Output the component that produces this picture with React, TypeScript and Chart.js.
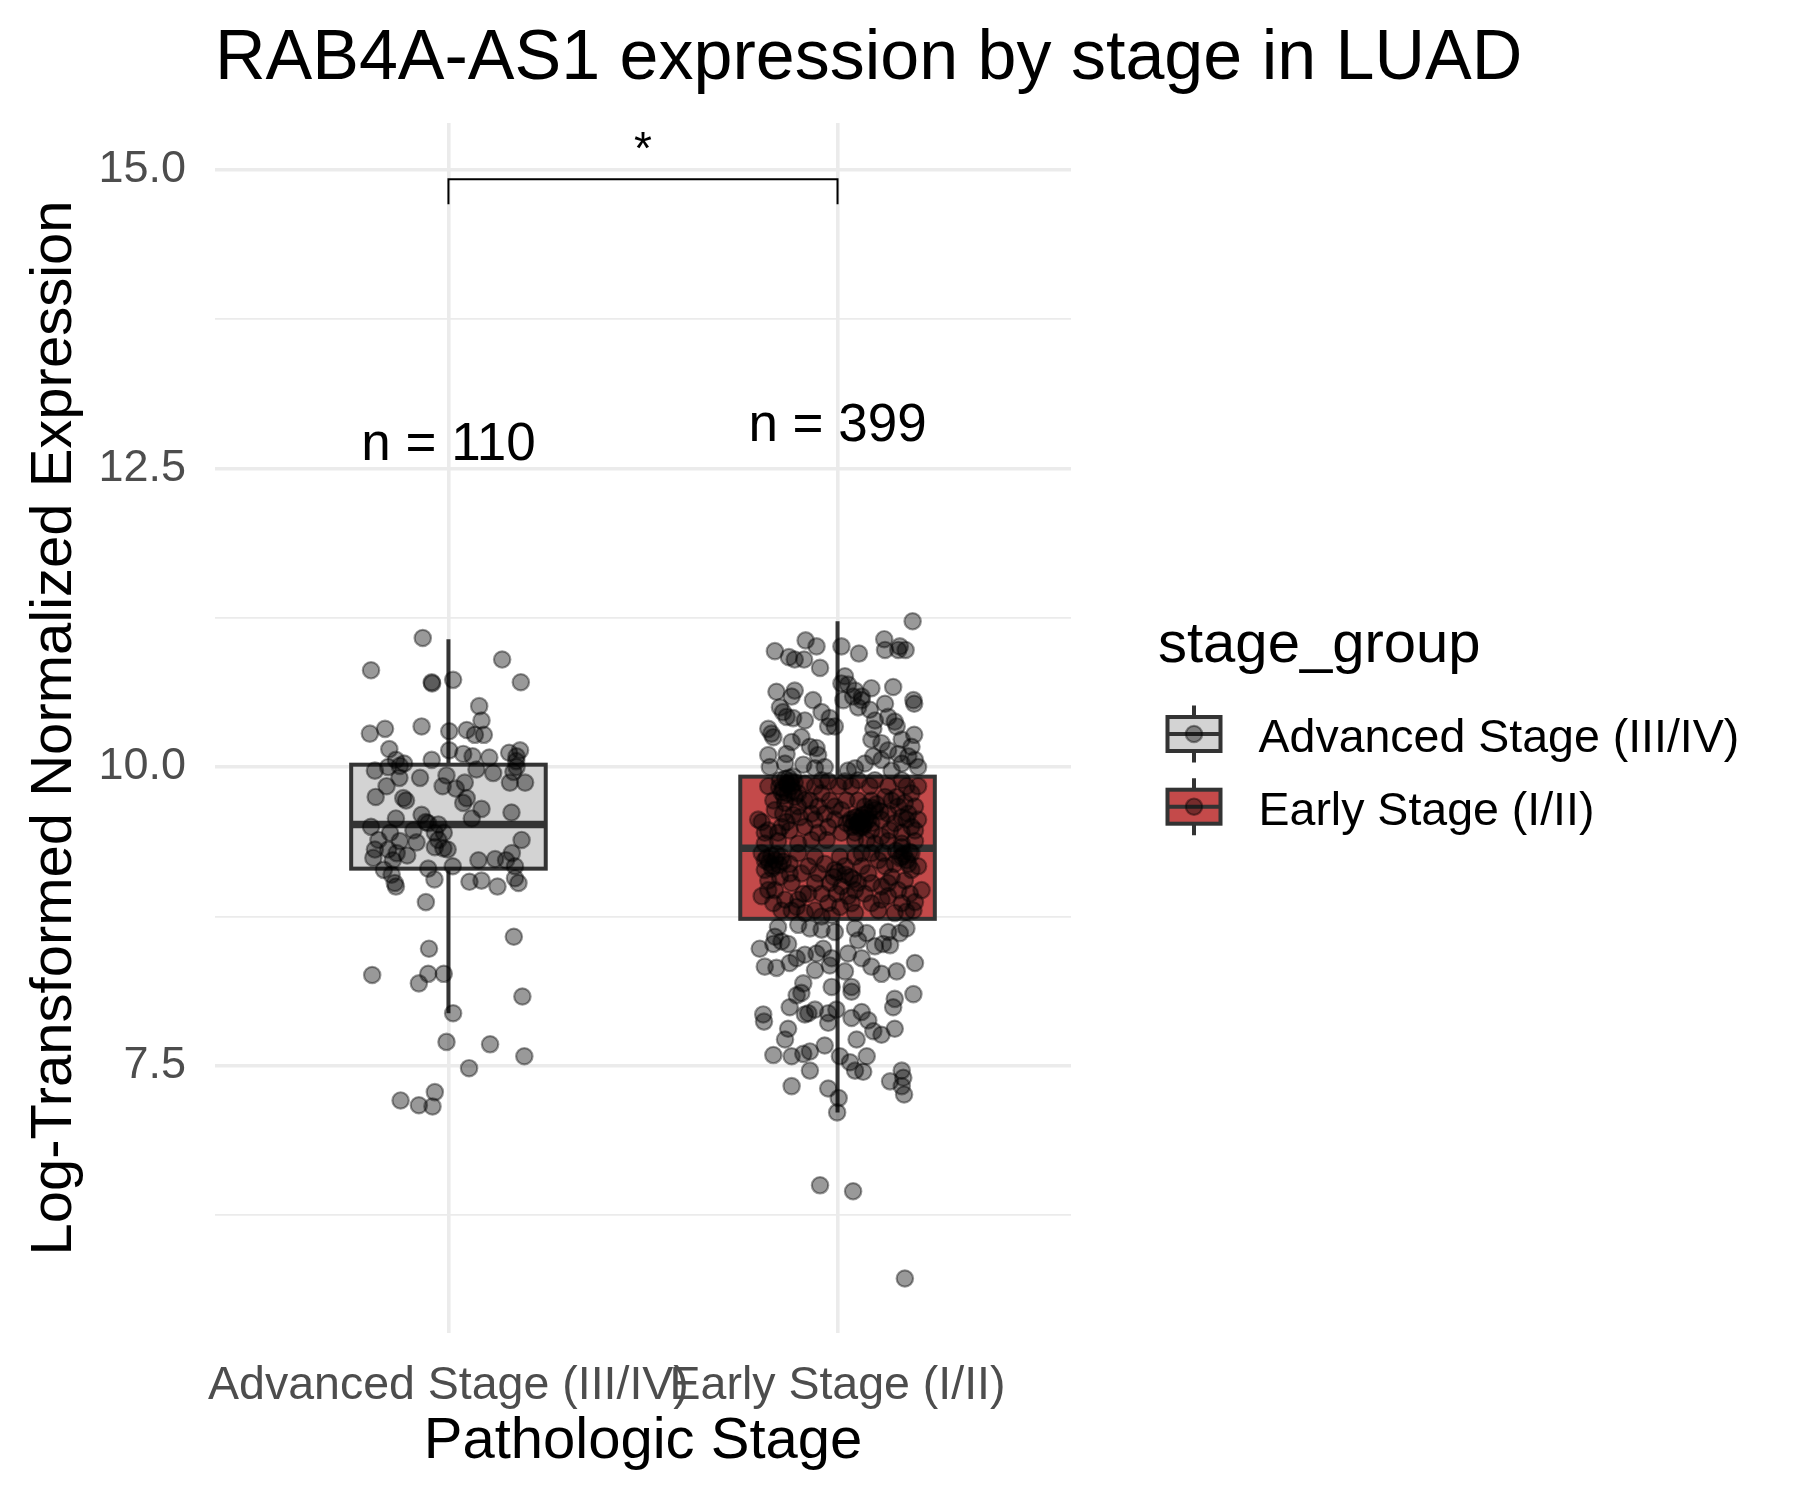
import React, { useEffect, useRef } from 'react';
import { Chart, registerables } from 'chart.js';

Chart.register(...registerables);

// ---------- data ----------
const categories = ['Advanced Stage (III/IV)', 'Early Stage (I/II)'];
const groupCounts = ['n = 110', 'n = 399'];
const countLabelY = [12.57, 12.73];

// box statistics per category
const q1 = [9.15, 8.73];
const median = [9.52, 9.32];
const q3 = [10.02, 9.92];
const whiskerLow = [7.94, 7.11];
const whiskerHigh = [11.07, 11.22];

// significance bracket
const bracketY = 14.92;
const bracketTickY = 14.71;
const starY = 15.05;
const starLabel = '*';

// y axis ticks
const majorTicks = [7.5, 10.0, 12.5, 15.0];
const minorTicks = [6.25, 8.75, 11.25, 13.75];

// jittered points: [expression value, horizontal jitter offset]
const advancedPoints: [number, number][] = [
  [11.08,-0.066],[10.81,-0.199],[10.90,0.138],[10.71,-0.043],[10.70,-0.042],[10.73,0.012],[10.71,0.186],[10.51,0.079],[10.39,0.085],[10.28,-0.202],
  [10.32,-0.163],[10.34,-0.069],[10.30,0.002],[10.31,0.047],[10.27,0.068],[10.27,0.091],[10.15,-0.152],[10.14,0.002],[10.11,0.038],[10.09,0.062],
  [10.08,0.105],[10.12,0.156],[10.14,0.184],[10.09,0.175],[10.06,-0.043],[10.06,-0.135],[10.03,-0.114],[9.97,-0.189],[10.00,-0.155],[10.01,-0.125],
  [10.00,0.175],[9.96,0.167],[9.98,0.072],[9.95,0.115],[9.91,-0.073],[9.93,-0.005],[9.91,-0.126],[9.84,-0.159],[9.84,-0.015],[9.82,0.019],
  [9.87,0.042],[9.87,0.158],[9.87,0.197],[9.75,-0.187],[9.74,-0.116],[9.72,-0.109],[9.74,0.047],[9.70,0.038],[9.65,0.085],[9.57,0.060],
  [9.62,0.162],[9.57,-0.135],[9.60,-0.069],[9.54,-0.058],[9.52,-0.026],[9.50,-0.199],[9.45,-0.150],[9.47,-0.090],[9.45,-0.035],[9.37,-0.082],
  [9.38,-0.125],[9.39,-0.180],[9.31,-0.189],[9.31,-0.155],[9.28,-0.133],[9.26,-0.106],[9.33,-0.035],[9.32,-0.013],[9.39,-0.026],[9.39,0.188],
  [9.24,-0.193],[9.22,-0.143],[9.14,-0.166],[9.10,-0.146],[9.03,-0.138],[9.00,-0.135],[9.15,-0.052],[9.06,-0.036],[9.17,0.011],[9.22,0.077],
  [9.23,0.120],[9.22,0.148],[9.28,0.163],[9.17,0.171],[9.04,0.054],[9.05,0.085],[9.00,0.126],[9.07,0.171],[9.03,0.180],[8.87,-0.058],
  [8.58,0.168],[8.48,-0.050],[8.26,-0.196],[8.27,-0.052],[8.27,-0.012],[8.19,-0.076],[8.08,0.190],[7.94,0.012],[7.70,-0.005],[7.68,0.107],
  [7.58,0.195],[7.48,0.053],[7.28,-0.035],[7.21,-0.123],[7.17,-0.076],[7.16,-0.041],[9.45,-0.012],[9.31,-0.002],[9.53,-0.052],[10.05,0.174],
];

const earlyPoints: [number, number][] = [
  // above the box
  [11.22,0.193],[10.97,-0.161],[10.92,-0.125],[10.90,-0.110],[10.90,-0.086],[11.06,-0.082],[11.01,-0.054],[10.83,-0.045],[11.01,0.010],[10.95,0.055],
  [11.07,0.120],[10.98,0.122],[10.98,0.156],[10.98,0.175],[11.01,0.160],[10.63,-0.157],[10.64,-0.110],[10.59,-0.118],[10.50,-0.148],[10.46,-0.140],
  [10.56,-0.063],[10.39,-0.084],[10.41,-0.114],[10.46,-0.041],[10.41,-0.020],[10.34,-0.024],[10.34,-0.007],[10.76,0.019],[10.69,0.027],[10.64,0.045],
  [10.59,0.040],[10.50,0.053],[10.66,0.087],[10.48,0.083],[10.67,0.143],[10.53,0.122],[10.42,0.130],[10.38,0.147],[10.34,0.152],[10.56,0.195],
  [10.53,0.197],[10.32,-0.178],[10.28,-0.170],[10.25,-0.165],[10.21,-0.118],[10.16,-0.054],[10.10,-0.050],[10.00,-0.033],[10.02,-0.088],[10.11,-0.131],
  [10.10,-0.178],[10.00,-0.174],[10.03,-0.135],[10.70,0.010],[10.56,0.015],[10.59,0.062],[10.32,0.092],[10.23,0.087],[10.20,0.113],[10.14,0.130],
  [10.23,0.165],[10.27,0.197],[10.17,0.190],[10.06,0.199],[10.03,0.165],[10.00,0.207],[9.97,0.139],[10.06,0.113],[10.09,0.092],[10.03,0.070],
  [9.99,0.045],[9.97,0.027],[10.56,0.062],[10.39,0.096],[10.11,0.156],[10.09,0.182],[10.42,-0.131],[10.25,-0.093],[10.17,-0.071],[9.99,-0.058],
  // box, upper half
  [9.89,-0.148],[9.86,-0.131],[9.84,-0.118],[9.79,-0.144],[9.75,-0.110],[9.72,-0.165],[9.70,-0.135],[9.67,-0.101],[9.64,-0.161],[9.60,-0.114],
  [9.54,-0.195],[9.47,-0.178],[9.45,-0.153],[9.45,-0.187],[9.50,-0.144],[9.50,-0.084],[9.84,-0.058],[9.78,-0.041],[9.72,-0.020],[9.67,-0.050],
  [9.61,-0.033],[9.56,-0.058],[9.50,-0.024],[9.45,-0.050],[9.84,0.002],[9.72,0.023],[9.64,0.010],[9.56,-0.007],[9.45,0.010],[9.84,0.036],
  [9.72,0.053],[9.67,0.070],[9.58,0.045],[9.50,0.066],[9.45,0.045],[9.84,0.083],[9.72,0.087],[9.64,0.096],[9.56,0.113],[9.47,0.087],
  [9.42,0.113],[9.84,0.130],[9.72,0.139],[9.67,0.156],[9.61,0.130],[9.53,0.147],[9.45,0.165],[9.84,0.177],[9.78,0.190],[9.70,0.173],
  [9.61,0.182],[9.50,0.190],[9.47,0.199],[9.84,0.207],[9.67,0.199],[9.89,0.165],[9.89,0.096],[9.89,0.053],[9.88,0.019],[9.88,-0.024],
  [9.86,-0.084],[9.78,-0.101],[9.72,-0.071],[9.58,-0.097],[9.56,-0.204],[9.47,-0.123],[9.39,-0.067],[9.39,-0.028],[9.39,0.045],[9.39,0.075],
  [9.36,0.096],[9.38,0.130],[9.36,0.165],[9.38,0.199],[9.36,-0.187],[9.38,-0.153],[9.36,-0.101],[9.53,0.053],[9.56,0.079],[9.50,0.036],
  [9.58,0.062],[9.53,0.087],[9.53,0.023],[9.67,-0.007],[9.61,-0.067],[9.54,-0.131],[9.61,-0.140],[9.75,0.152],[9.75,0.122],[9.56,0.177],
  [9.92,-0.114],[9.84,-0.178],[9.56,0.207],[9.47,0.135],[9.58,0.165],[9.89,-0.041],[9.72,-0.084],
  // dense clusters inside the box
  [9.90,-0.135],[9.88,-0.120],[9.85,-0.128],[9.82,-0.140],[9.80,-0.116],[9.87,-0.110],[9.83,-0.150],[9.78,-0.128],[9.91,-0.125],[9.76,-0.138],
  [9.58,0.050],[9.55,0.058],[9.52,0.064],[9.57,0.072],[9.54,0.042],[9.51,0.050],[9.60,0.066],[9.49,0.058],[9.56,0.034],[9.53,0.070],
  [9.26,-0.170],[9.22,-0.160],[9.20,-0.176],[9.18,-0.150],[9.24,-0.182],[9.15,-0.168],[9.21,-0.140],[9.27,-0.156],
  [9.30,0.150],[9.27,0.170],[9.24,0.160],[9.22,0.178],[9.33,0.165],[9.29,0.185],
  [9.66,0.090],[9.62,0.080],[9.69,0.100],[9.63,0.110],[9.10,0.020],[9.06,0.040],[9.12,0.000],[9.08,-0.010],
  // box, lower half
  [9.22,-0.187],[9.17,-0.165],[9.25,-0.144],[9.19,-0.123],[9.28,-0.101],[9.05,-0.178],[9.08,-0.148],[9.03,-0.118],[9.11,-0.093],[8.92,-0.195],
  [8.86,-0.165],[8.89,-0.135],[8.83,-0.105],[8.94,-0.075],[9.25,-0.058],[9.19,-0.033],[9.11,-0.050],[9.03,-0.020],[8.94,-0.041],[8.86,-0.024],
  [8.80,-0.058],[9.25,0.006],[9.17,0.019],[9.08,0.032],[9.00,0.010],[8.92,0.027],[8.83,0.006],[9.25,0.045],[9.17,0.062],[9.11,0.079],
  [9.03,0.053],[8.94,0.070],[8.86,0.087],[9.22,0.105],[9.17,0.122],[9.08,0.139],[9.00,0.113],[8.92,0.130],[8.80,0.105],[9.25,0.165],
  [9.19,0.182],[9.14,0.190],[9.05,0.173],[8.94,0.186],[8.86,0.165],[8.80,0.195],[8.97,0.216],[9.17,0.207],[9.28,-0.195],[8.80,-0.118],
  [8.78,-0.084],[8.76,-0.015],[8.78,0.045],[8.78,0.147],[8.87,0.199],[8.97,-0.178],[9.17,-0.075],[9.14,-0.007],[9.28,0.087],[9.19,0.147],
  [8.94,-0.088],[8.75,-0.041],[8.86,0.036],[8.97,0.156],[8.97,-0.161],[9.11,-0.123],[9.28,0.062],[9.28,0.117],[9.28,0.190],[9.14,-0.187],
  [8.94,-0.003],[9.03,0.087],[9.03,0.130],[8.89,-0.101],[9.03,-0.058],[8.97,0.045],[8.89,0.113],[8.79,0.177],[8.80,-0.144],
  // below the box
  [8.68,-0.101],[8.65,-0.071],[8.64,-0.041],[8.62,-0.007],[8.58,-0.161],[8.54,-0.144],[8.52,-0.127],[8.48,-0.200],[8.52,-0.165],[8.43,-0.084],
  [8.40,-0.105],[8.44,-0.054],[8.48,-0.037],[8.40,-0.015],[8.44,0.027],[8.55,0.053],[8.61,0.075],[8.50,0.096],[8.52,0.117],[8.51,0.135],
  [8.61,0.160],[8.65,0.177],[8.33,-0.187],[8.32,-0.157],[8.36,-0.123],[8.30,-0.058],[8.34,-0.020],[8.29,0.019],[8.40,0.062],[8.33,0.087],
  [8.27,0.113],[8.29,0.152],[8.36,0.199],[8.19,-0.088],[8.16,-0.015],[8.16,0.036],[8.62,0.130],[8.65,0.045],[8.66,-0.153],
  [7.99,-0.123],[7.93,-0.084],[7.93,-0.191],[7.87,-0.189],[7.94,-0.075],[7.97,-0.058],[7.94,-0.024],[7.97,-0.003],[7.90,0.036],[7.95,0.062],
  [7.88,0.079],[7.86,-0.024],[7.79,0.092],[7.76,0.113],[7.81,0.147],[7.99,0.143],[8.06,0.147],[8.10,0.195],[7.72,-0.135],[7.81,-0.127],
  [7.59,-0.165],[7.58,-0.118],[7.60,-0.088],[7.62,-0.071],[7.67,-0.033],[7.58,0.006],[7.53,0.032],[7.72,0.049],[7.58,0.075],[7.46,0.045],
  [7.45,0.066],[7.46,-0.071],[7.33,-0.118],[7.31,-0.024],[7.23,0.003],[7.11,-0.001],[7.37,0.135],[7.46,0.165],[7.40,0.169],[7.33,0.165],
  [7.26,0.171],[6.50,-0.045],[6.45,0.040],[5.72,0.173],[8.11,-0.093],[8.12,0.036],[8.09,-0.105],
];

// ---------- styles ----------
const FONT = '"Liberation Sans", Arial, Helvetica, sans-serif';
const boxFills = ['#d3d3d3', '#c44a4a'];
const boxLine = '#333333';
const pointColor = 'rgba(0,0,0,0.4)';
const gridColor = '#ebebeb';
const boxWidth = 0.5;
const pointRadius = 8.2;
const pointBorder = 2.2;

const isMajor = (v: number) => majorTicks.some((m) => Math.abs(m - v) < 1e-6);

const overlayPlugin = {
  id: 'ggOverlay',
  beforeDatasetsDraw(chart: any) {
    const { ctx } = chart;
    const xs = chart.scales.x;
    const ys = chart.scales.y;
    categories.forEach((_, i) => {
      const cx = xs.getPixelForValue(i + 1);
      const hw = xs.getPixelForValue(i + 1 + boxWidth / 2) - cx;
      const pQ1 = ys.getPixelForValue(q1[i]);
      const pQ3 = ys.getPixelForValue(q3[i]);
      const pMed = ys.getPixelForValue(median[i]);
      const pLo = ys.getPixelForValue(whiskerLow[i]);
      const pHi = ys.getPixelForValue(whiskerHigh[i]);
      ctx.save();
      ctx.strokeStyle = boxLine;
      ctx.lineWidth = 4;
      ctx.lineCap = 'butt';
      ctx.beginPath();
      ctx.moveTo(cx, pHi);
      ctx.lineTo(cx, pQ3);
      ctx.moveTo(cx, pQ1);
      ctx.lineTo(cx, pLo);
      ctx.stroke();
      ctx.fillStyle = boxFills[i];
      ctx.fillRect(cx - hw, pQ3, 2 * hw, pQ1 - pQ3);
      ctx.strokeRect(cx - hw, pQ3, 2 * hw, pQ1 - pQ3);
      ctx.lineWidth = 7.5;
      ctx.beginPath();
      ctx.moveTo(cx - hw, pMed);
      ctx.lineTo(cx + hw, pMed);
      ctx.stroke();
      ctx.restore();
    });
  },
  afterDatasetsDraw(chart: any) {
    const { ctx } = chart;
    const xs = chart.scales.x;
    const ys = chart.scales.y;
    ctx.save();
    ctx.fillStyle = '#000000';
    ctx.font = `53px ${FONT}`;
    ctx.textAlign = 'center';
    ctx.textBaseline = 'alphabetic';
    categories.forEach((_, i) => {
      ctx.fillText(groupCounts[i], xs.getPixelForValue(i + 1), ys.getPixelForValue(countLabelY[i]));
    });
    const x1 = xs.getPixelForValue(1);
    const x2 = xs.getPixelForValue(2);
    const by = ys.getPixelForValue(bracketY);
    const bt = ys.getPixelForValue(bracketTickY);
    ctx.strokeStyle = '#000000';
    ctx.lineWidth = 2;
    ctx.beginPath();
    ctx.moveTo(x1, bt);
    ctx.lineTo(x1, by);
    ctx.lineTo(x2, by);
    ctx.lineTo(x2, bt);
    ctx.stroke();
    ctx.font = `46px ${FONT}`;
    ctx.fillText(starLabel, (x1 + x2) / 2, ys.getPixelForValue(starY));
    ctx.restore();
  },
  afterDraw(chart: any) {
    const { ctx, chartArea } = chart;
    ctx.save();
    ctx.fillStyle = '#000000';
    ctx.font = `70px ${FONT}`;
    ctx.textAlign = 'left';
    ctx.textBaseline = 'alphabetic';
    ctx.fillText('RAB4A-AS1 expression by stage in LUAD', chartArea.left, 79);
    ctx.font = `58px ${FONT}`;
    ctx.textAlign = 'center';
    ctx.fillText('Pathologic Stage', (chartArea.left + chartArea.right) / 2, 1458);
    ctx.save();
    ctx.translate(71, (chartArea.top + chartArea.bottom) / 2);
    ctx.rotate(-Math.PI / 2);
    ctx.fillText('Log-Transformed Normalized Expression', 0, 0);
    ctx.restore();
    // legend
    ctx.textAlign = 'left';
    ctx.font = `58px ${FONT}`;
    ctx.fillText('stage_group', 1158, 662);
    const keyCenters = [734, 806.7];
    const labelBase = [752, 825];
    categories.forEach((label, i) => {
      const kx = 1194;
      const ky = keyCenters[i];
      ctx.strokeStyle = boxLine;
      ctx.lineWidth = 4;
      ctx.beginPath();
      ctx.moveTo(kx, ky - 28.5);
      ctx.lineTo(kx, ky - 17);
      ctx.moveTo(kx, ky + 17);
      ctx.lineTo(kx, ky + 28.5);
      ctx.stroke();
      ctx.fillStyle = boxFills[i];
      ctx.fillRect(kx - 26.5, ky - 17, 53, 34);
      ctx.strokeRect(kx - 26.5, ky - 17, 53, 34);
      ctx.lineWidth = 4;
      ctx.beginPath();
      ctx.moveTo(kx - 26.5, ky);
      ctx.lineTo(kx + 26.5, ky);
      ctx.stroke();
      ctx.beginPath();
      ctx.arc(kx, ky, pointRadius, 0, Math.PI * 2);
      ctx.fillStyle = pointColor;
      ctx.fill();
      ctx.strokeStyle = pointColor;
      ctx.lineWidth = pointBorder;
      ctx.stroke();
      ctx.fillStyle = '#000000';
      ctx.font = `46.5px ${FONT}`;
      ctx.fillText(label, 1258.5, labelBase[i]);
    });
    ctx.restore();
  },
};

export default function App() {
  const canvasRef = useRef<HTMLCanvasElement | null>(null);

  useEffect(() => {
    document.body.style.margin = '0';
    const canvas = canvasRef.current;
    if (!canvas) return;
    const toData = (pts: [number, number][], center: number) =>
      pts.map(([v, j]) => ({ x: center + j, y: v }));

    const chart = new Chart(canvas, {
      type: 'scatter',
      data: {
        datasets: [
          {
            label: categories[0],
            data: toData(advancedPoints, 1),
            backgroundColor: pointColor,
            borderColor: pointColor,
            borderWidth: pointBorder,
            pointRadius: pointRadius,
          },
          {
            label: categories[1],
            data: toData(earlyPoints, 2),
            backgroundColor: pointColor,
            borderColor: pointColor,
            borderWidth: pointBorder,
            pointRadius: pointRadius,
          },
        ],
      },
      options: {
        animation: false,
        responsive: false,
        maintainAspectRatio: false,
        devicePixelRatio: 1,
        events: [],
        layout: { padding: { left: 0, top: 123, right: 729, bottom: 0 } },
        plugins: {
          legend: { display: false },
          title: { display: false },
          tooltip: { enabled: false },
        },
        scales: {
          x: {
            type: 'linear',
            min: 0.4,
            max: 2.6,
            afterBuildTicks: (s: any) => {
              s.ticks = categories.map((_, i) => ({ value: i + 1 }));
            },
            afterFit: (s: any) => {
              s.height = 167;
            },
            ticks: {
              autoSkip: false,
              maxRotation: 0,
              minRotation: 0,
              padding: 25,
              color: '#4d4d4d',
              font: { family: FONT, size: 46.5 },
              callback: (v: any) => categories[Math.round(Number(v)) - 1] ?? '',
            },
            grid: { color: gridColor, lineWidth: 3.6, drawTicks: false },
            border: { display: false },
          },
          y: {
            type: 'linear',
            min: 5.264,
            max: 15.39,
            afterBuildTicks: (s: any) => {
              s.ticks = [...minorTicks, ...majorTicks].sort((a, b) => a - b).map((v) => ({ value: v }));
            },
            afterFit: (s: any) => {
              s.width = 215;
            },
            ticks: {
              autoSkip: false,
              padding: 29,
              color: '#4d4d4d',
              font: { family: FONT, size: 45 },
              callback: (v: any) => (isMajor(Number(v)) ? Number(v).toFixed(1) : ''),
            },
            grid: {
              color: gridColor,
              lineWidth: (c: any) => (isMajor(c.tick?.value) ? 3.6 : 1.8),
              drawTicks: false,
            },
            border: { display: false },
          },
        },
      },
      plugins: [overlayPlugin],
    } as any);

    return () => chart.destroy();
  }, []);

  return (
    <canvas
      ref={canvasRef}
      width={1800}
      height={1500}
      style={{ display: 'block', width: 1800, height: 1500 }}
    />
  );
}
